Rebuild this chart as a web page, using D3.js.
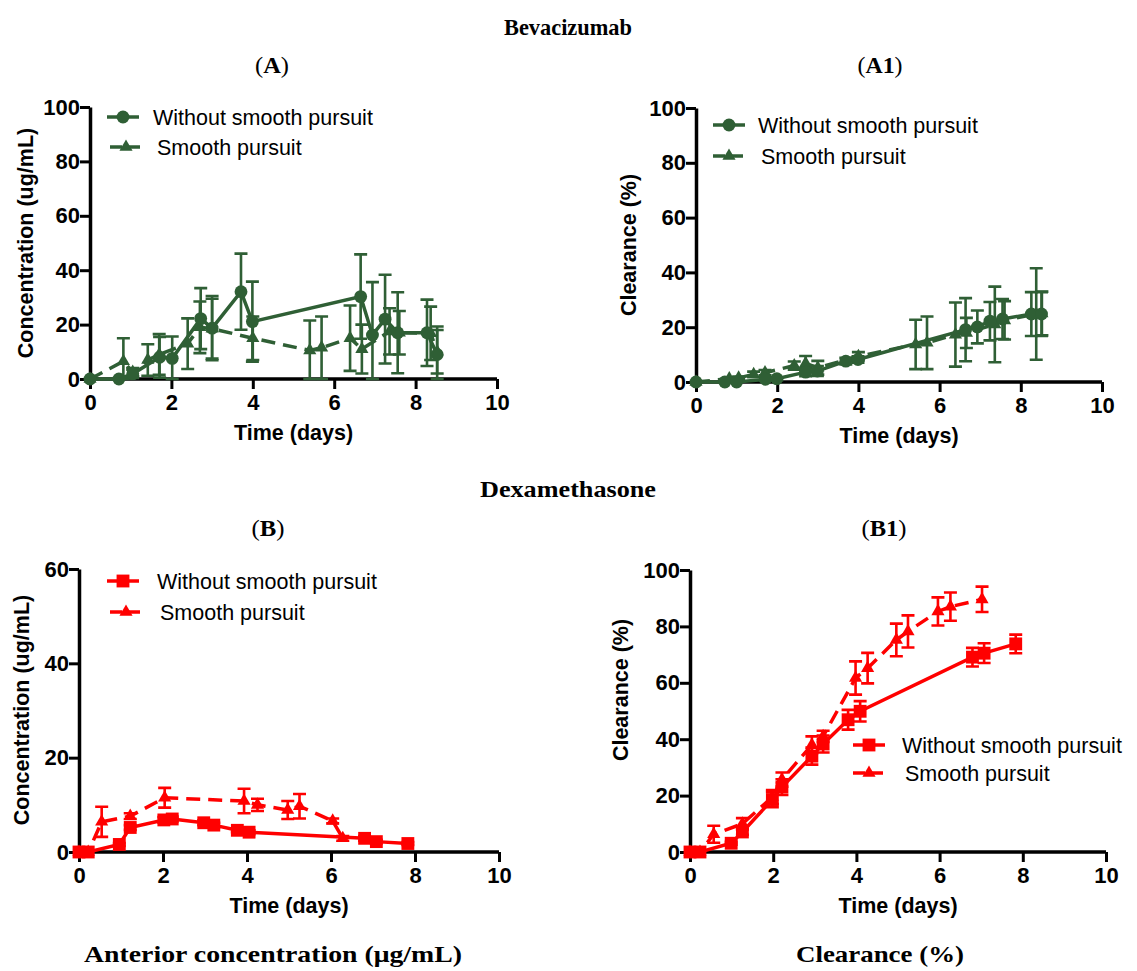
<!DOCTYPE html>
<html><head><meta charset="utf-8">
<script src="https://cdn.jsdelivr.net/npm/d3@7"></script>
<style>body{margin:0;background:#fff}svg{display:block}</style>
</head><body>
<svg id="c" width="1137" height="971"></svg>
<script>
// ---------- DATA ----------
const xTicks = [0, 2, 4, 6, 8, 10];
const yTicks100 = [0, 20, 40, 60, 80, 100];
const yTicks60 = [0, 20, 40, 60];
const seriesNames = ["Without smooth pursuit", "Smooth pursuit"];

// Panel A: Bevacizumab concentration
const aWoX = [0, 0.71, 1.05, 1.71, 2.02, 2.72, 3.0, 3.71, 3.99, 6.65, 6.94, 7.25, 7.56, 8.28, 8.53];
const aWoY = [0, 0, 1.9, 8, 7.6, 22.2, 18.7, 32.1, 21.1, 30.3, 16.2, 22, 17, 17, 9];
const aWoE = [0, 0, 1.5, 7.5, 8, 11.2, 11.8, 14, 14.7, 15.5, 19.4, 16.3, 14.9, 12.2, 10.3];
const aSpX = [0, 0.82, 1.05, 1.42, 1.7, 2.4, 2.7, 3.0, 4.0, 5.4, 5.69, 6.39, 6.68, 7.36, 7.6, 8.37, 8.53];
const aSpY = [0, 6.5, 2.5, 7, 9, 13, 19, 18.5, 15, 10.5, 11.5, 15, 11, 17.5, 17, 16.8, 10];
const aSpE = [0, 8.5, 1.5, 5.8, 7.5, 9.3, 9.5, 11, 8, 11, 11.5, 12, 9, 8.5, 8, 9.8, 8];

// Panel A1: Bevacizumab clearance
const a1WoX = [0, 0.71, 1.0, 1.71, 1.99, 2.70, 2.99, 3.69, 3.99, 6.64, 6.93, 7.24, 7.55, 8.26, 8.51];
const a1WoY = [0, 0, 0, 1, 1.2, 3.6, 4, 7.6, 8.2, 19.1, 20.1, 22.2, 23, 24.8, 24.8];
const a1WoE = [0, 0, 0, 0.5, 0.5, 1.5, 1.8, 1.2, 1.2, 11.5, 6, 7, 7.3, 8, 8];
const a1SpX = [0, 0.82, 1.05, 1.42, 1.7, 2.42, 2.7, 3.0, 4.0, 5.41, 5.69, 6.39, 6.66, 7.36, 7.6, 8.38, 8.52];
const a1SpY = [0, 1.2, 1.5, 2.8, 3.4, 6, 6.8, 5.2, 9.4, 13.7, 14.3, 17.3, 17.9, 21, 22.5, 24.8, 25];
const a1SpE = [0, 0.5, 0.5, 1, 1, 1.5, 2.7, 2.5, 1.5, 9, 9.6, 11.7, 5.5, 13.8, 7, 16.7, 8];

// Panel B: Dexamethasone concentration
const bWoX = [0, 0.22, 0.96, 1.22, 2.02, 2.22, 2.97, 3.21, 3.77, 4.05, 6.8, 7.08, 7.83];
const bWoY = [0, 0, 1.6, 5.2, 6.8, 7, 6.2, 5.7, 4.6, 4.2, 2.9, 2.2, 1.8];
const bWoE = [0, 0, 0.3, 0.5, 0.6, 0.5, 0.5, 0.5, 0.4, 0.4, 0.5, 0.4, 0.3];
const bSpX = [0, 0.22, 0.54, 1.22, 2.04, 3.93, 4.25, 4.97, 5.25, 6.04, 6.28];
const bSpY = [0, 0, 6.4, 7.6, 11.5, 10.8, 10, 8.9, 9.7, 6.6, 2.9];
const bSpE = [0, 0, 3.2, 0.6, 2.1, 2.6, 1.3, 1.9, 2.6, 0.5, 0.5];

// Panel B1: Dexamethasone clearance
const b1WoX = [0, 0.24, 0.99, 1.26, 1.98, 2.21, 2.93, 3.2, 3.8, 4.09, 6.79, 7.07, 7.83];
const b1WoY = [0, 0, 3.1, 7.1, 18.6, 23, 34, 38.3, 46.9, 49.9, 69.1, 70.5, 73.8];
const b1WoE = [0, 0, 0.5, 1, 2.7, 2.8, 3, 3, 3.5, 3.6, 3.3, 3.5, 3.3];
const b1SpX = [0, 0.24, 0.57, 1.26, 1.98, 2.21, 2.93, 3.2, 3.98, 4.27, 4.96, 5.24, 5.96, 6.26, 7.02];
const b1SpY = [0, 0, 6.3, 10, 19.5, 25.7, 38, 41, 61.7, 65.2, 75.2, 78.2, 85.3, 87, 89.6];
const b1SpE = [0, 0, 3, 2, 2.5, 2.5, 3, 2, 5.9, 5.4, 5.8, 5.7, 5, 5, 4.5];

// ---------- DRAW ----------
const svg = d3.select("#c");
const GREEN = "#2f5f35", RED = "#ff0000";
const SANS = "'Liberation Sans', Arial, sans-serif";
const SERIF = "'Liberation Serif', 'DejaVu Serif', serif";

function zip(xs, ys, es) { return xs.map((x, i) => ({x, y: ys[i], e: es[i]})); }

function panel(cfg) {
  const x = d3.scaleLinear().domain([0, 10]).range([cfg.left, cfg.right]);
  const y = d3.scaleLinear().domain([0, cfg.ymax]).range([cfg.bottom, cfg.top]);
  const g = svg.append("g");

  const xa = g.append("g").attr("transform", `translate(0,${cfg.bottom})`)
    .call(d3.axisBottom(x).tickValues(xTicks).tickSize(10).tickPadding(5).tickSizeOuter(0));
  const ya = g.append("g").attr("transform", `translate(${cfg.left},0)`)
    .call(d3.axisLeft(y).tickValues(cfg.yTicks).tickSize(10).tickPadding(0).tickSizeOuter(0));
  [xa, ya].forEach(a => {
    a.select(".domain").attr("stroke", "#000").attr("stroke-width", 3.5);
    a.selectAll(".tick line").attr("stroke", "#000").attr("stroke-width", 3);
    a.selectAll(".tick text").attr("fill", "#000").style("font-family", SANS)
      .style("font-weight", "bold").style("font-size", "22px");
  });
  xa.select(".domain").attr("d", `M${cfg.left - 1.75},0H${cfg.right}`);

  g.append("text").attr("x", (cfg.left + cfg.right) / 2).attr("y", cfg.bottom + 61)
    .attr("text-anchor", "middle").style("font-family", SANS).style("font-weight", "bold")
    .style("font-size", "21.5px").text("Time (days)");
  g.append("text").attr("transform", `translate(${cfg.ytX},${cfg.ytY}) rotate(-90)`)
    .attr("text-anchor", "middle").style("font-family", SANS).style("font-weight", "bold")
    .style("font-size", "21.5px").text(cfg.ytitle);

  const series = [
    {data: zip(...cfg.sp.d), shape: d3.symbolTriangle, size: 75, dash: "14,8"},
    {data: zip(...cfg.wo.d), shape: cfg.wo.shape, size: cfg.wo.size, dash: null}
  ];
  const line = d3.line().x(d => x(d.x)).y(d => y(d.y));
  series.forEach(s => {
    const sg = g.append("g");
    s.data.filter(d => d.e > 0).forEach(d => {
      const cx = x(d.x), y1 = y(d.y + d.e), y0 = y(Math.max(0, d.y - d.e));
      sg.append("path").attr("d", `M${cx},${y1}V${y0}M${cx - 6.5},${y1}H${cx + 6.5}M${cx - 6.5},${y0}H${cx + 6.5}`)
        .attr("stroke", cfg.color).attr("stroke-width", 2.6).attr("fill", "none");
    });
    sg.append("path").datum(s.data).attr("d", line).attr("fill", "none")
      .attr("stroke", cfg.color).attr("stroke-width", 3.5)
      .attr("stroke-dasharray", s.dash);
    sg.selectAll("path.m").data(s.data).join("path").attr("class", "m")
      .attr("transform", d => `translate(${x(d.x)},${y(d.y)})`)
      .attr("d", d3.symbol().type(s.shape).size(s.size)).attr("fill", cfg.color);
  });

  const L = cfg.legend;
  [[seriesNames[0], cfg.wo.shape, cfg.wo.size, null, L.y1, L.tx1, L.sx1],
   [seriesNames[1], d3.symbolTriangle, 75, "12,6", L.y2, L.tx2, L.sx2]].forEach(([name, shp, sz, dash, ly, tx, sx]) => {
    g.append("path").attr("d", `M${sx},${ly}H${sx + 32}`).attr("stroke", cfg.color)
      .attr("stroke-width", 3.5).attr("stroke-dasharray", dash);
    g.append("path").attr("transform", `translate(${sx + 16},${ly})`)
      .attr("d", d3.symbol().type(shp).size(sz)).attr("fill", cfg.color);
    g.append("text").attr("x", tx).attr("y", ly + 7.5).style("font-family", SANS)
      .style("font-size", "21.5px").attr("fill", "#000").text(name);
  });
}

panel({left: 90, right: 497, top: 107, bottom: 379, ymax: 100, yTicks: yTicks100,
  color: GREEN, ytitle: "Concentration (ug/mL)", ytX: 33, ytY: 243,
  wo: {d: [aWoX, aWoY, aWoE], shape: d3.symbolCircle, size: 130},
  sp: {d: [aSpX, aSpY, aSpE]},
  legend: {y1: 117, y2: 147, sx1: 107, sx2: 110, tx1: 153, tx2: 157}});

panel({left: 696, right: 1102, top: 108, bottom: 382, ymax: 100, yTicks: yTicks100,
  color: GREEN, ytitle: "Clearance (%)", ytX: 636, ytY: 245,
  wo: {d: [a1WoX, a1WoY, a1WoE], shape: d3.symbolCircle, size: 130},
  sp: {d: [a1SpX, a1SpY, a1SpE]},
  legend: {y1: 125, y2: 156, sx1: 713, sx2: 713, tx1: 758, tx2: 761}});

panel({left: 79, right: 499, top: 569, bottom: 852, ymax: 60, yTicks: yTicks60,
  color: RED, ytitle: "Concentration (ug/mL)", ytX: 29, ytY: 710,
  wo: {d: [bWoX, bWoY, bWoE], shape: d3.symbolSquare, size: 165},
  sp: {d: [bSpX, bSpY, bSpE]},
  legend: {y1: 581, y2: 612, sx1: 107, sx2: 110, tx1: 157, tx2: 160}});

panel({left: 690, right: 1106, top: 570, bottom: 852, ymax: 100, yTicks: yTicks100,
  color: RED, ytitle: "Clearance (%)", ytX: 628, ytY: 690,
  wo: {d: [b1WoX, b1WoY, b1WoE], shape: d3.symbolSquare, size: 165},
  sp: {d: [b1SpX, b1SpY, b1SpE]},
  legend: {y1: 745, y2: 773, sx1: 853, sx2: 853, tx1: 902, tx2: 905}});

function serifText(x, yy, parts, len) {
  const t = svg.append("text").attr("x", x).attr("y", yy).attr("text-anchor", "middle")
    .style("font-family", SERIF).style("font-size", "23px").attr("fill", "#000")
    .attr("textLength", len).attr("lengthAdjust", "spacingAndGlyphs");
  parts.forEach(([s, b]) => t.append("tspan").style("font-weight", b ? "bold" : "normal").text(s));
}
serifText(568, 35, [["Bevacizumab", true]], 128);
serifText(272, 73, [["(", false], ["A", true], [")", false]], 34);
serifText(880, 73, [["(", false], ["A1", true], [")", false]], 45);
serifText(568, 497, [["Dexamethasone", true]], 176);
serifText(268, 536, [["(", false], ["B", true], [")", false]], 33);
serifText(884, 536, [["(", false], ["B1", true], [")", false]], 45);
serifText(273, 962, [["Anterior concentration (μg/mL)", true]], 378);
serifText(880, 962, [["Clearance (%)", true]], 168);
</script>
</body></html>
